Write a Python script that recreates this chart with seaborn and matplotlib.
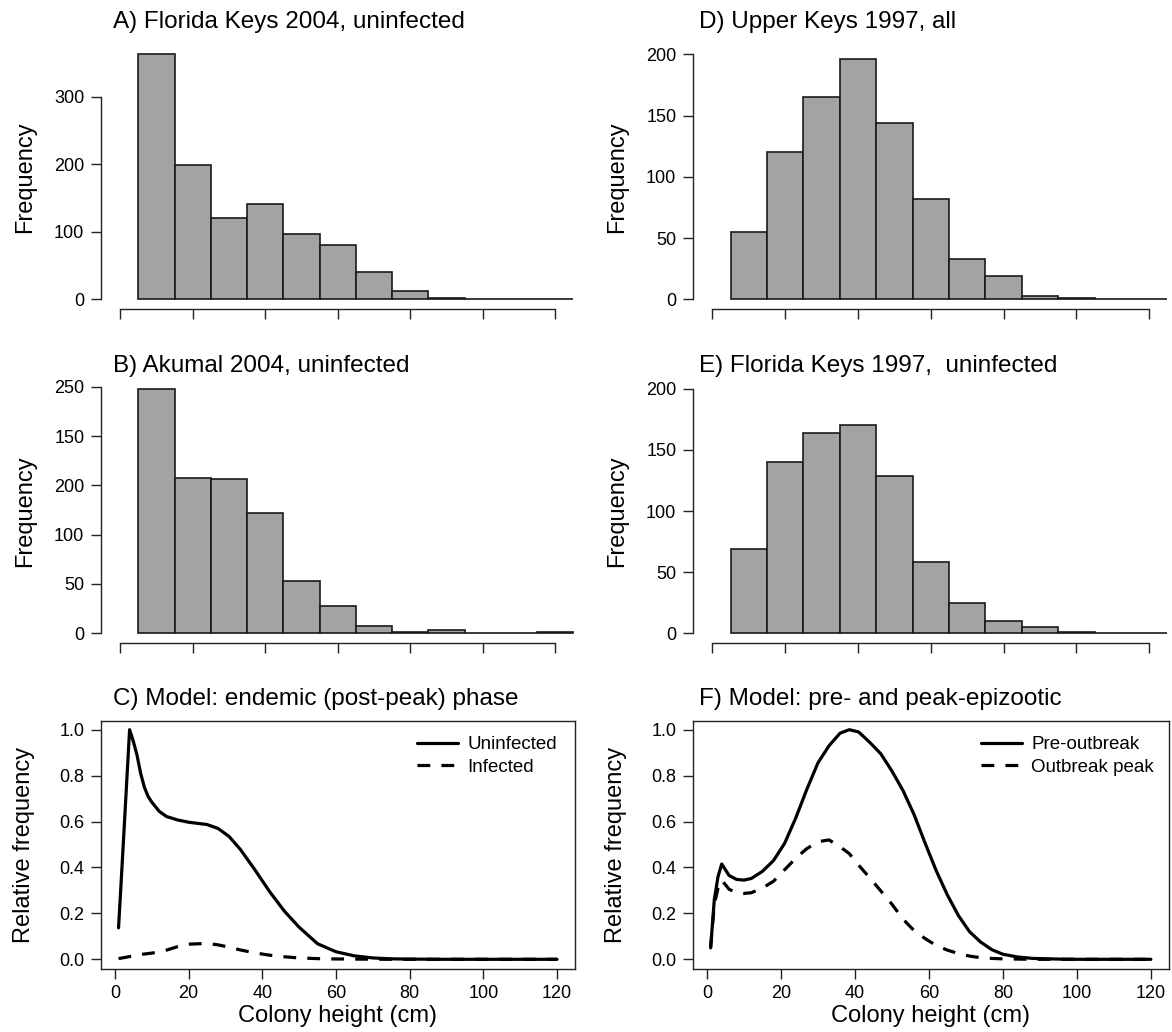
import numpy as np
import pandas as pd
import matplotlib
matplotlib.use("Agg")
import matplotlib.pyplot as plt
from matplotlib.lines import Line2D
import seaborn as sns

sns.set_theme(style="ticks")
plt.rcParams['font.family'] = ['Liberation Sans', 'DejaVu Sans']
plt.rcParams['text.color'] = 'black'
plt.rcParams['axes.labelcolor'] = 'black'
plt.rcParams['xtick.color'] = 'black'
plt.rcParams['ytick.color'] = 'black'

# ---------------- data ----------------
bin_edges = [5, 15, 25, 35, 45, 55, 65, 75, 85, 95, 105, 115, 125]
counts_A = [363, 199, 121, 141, 97, 80, 41, 12, 2, 1, 0, 0]
counts_B = [248, 157, 156, 122, 53, 28, 7, 1, 3, 0, 0, 1]
counts_D = [55, 120, 165, 196, 144, 82, 33, 19, 3, 1, 0, 0]
counts_E = [69, 140, 164, 170, 129, 58, 25, 10, 5, 1, 0, 0]

yticks_A = [0, 100, 200, 300]
ylabels_A = ["0", "100", "200", "300"]
yticks_B = [0, 50, 100, 150, 200, 250]
ylabels_B = ["0", "50", "100", "200", "150", "250"]
yticks_D = [0, 50, 100, 150, 200]
ylabels_D = ["0", "50", "100", "150", "200"]
yticks_E = [0, 50, 100, 150, 200]
ylabels_E = ["0", "50", "100", "150", "200"]

x_ticks = [0, 20, 40, 60, 80, 100, 120]

C_x = [1, 2, 3, 4, 5, 6, 7, 8, 9, 10, 12, 14, 17, 20, 25, 28, 31, 34, 38, 42,
       46, 50, 55, 60, 65, 70, 75, 80, 90, 100, 110, 120]
C_uninfected = [0.137, 0.42, 0.71, 1.0, 0.95, 0.89, 0.81, 0.75, 0.71, 0.685,
                0.645, 0.622, 0.607, 0.597, 0.587, 0.57, 0.535, 0.48, 0.39,
                0.295, 0.21, 0.14, 0.068, 0.033, 0.015, 0.006, 0.002, 0.001,
                0, 0, 0, 0]
C_infected = [0.003, 0.006, 0.009, 0.012, 0.015, 0.018, 0.021, 0.023, 0.025,
              0.027, 0.032, 0.04, 0.055, 0.066, 0.069, 0.063, 0.053, 0.041,
              0.028, 0.018, 0.011, 0.006, 0.003, 0.0015, 0.001, 0.0005, 0,
              0, 0, 0, 0, 0]

F_x = [1, 2, 3, 4, 5, 6, 8, 10, 12, 15, 18, 21, 24, 27, 30, 33, 36, 38.5, 41,
       44, 47, 50, 53, 56, 59, 62, 65, 68, 71, 74, 77, 80, 84, 88, 95, 100,
       110, 120]
F_pre = [0.05, 0.26, 0.36, 0.415, 0.39, 0.365, 0.348, 0.345, 0.352, 0.383,
         0.43, 0.505, 0.615, 0.74, 0.855, 0.93, 0.985, 1.0, 0.99, 0.945,
         0.895, 0.82, 0.735, 0.63, 0.505, 0.385, 0.28, 0.19, 0.12, 0.075,
         0.042, 0.022, 0.01, 0.004, 0.001, 0, 0, 0]
F_peak = [0.05, 0.24, 0.31, 0.345, 0.325, 0.305, 0.29, 0.287, 0.29, 0.31,
          0.34, 0.39, 0.44, 0.482, 0.512, 0.52, 0.49, 0.46, 0.41, 0.355,
          0.298, 0.24, 0.175, 0.125, 0.09, 0.06, 0.04, 0.025, 0.014, 0.007,
          0.004, 0.002, 0.001, 0, 0, 0, 0, 0]

titles = {
    "A": "A) Florida Keys 2004, uninfected",
    "B": "B) Akumal 2004, uninfected",
    "C": "C) Model: endemic (post-peak) phase",
    "D": "D) Upper Keys 1997, all",
    "E": "E) Florida Keys 1997,  uninfected",
    "F": "F) Model: pre- and peak-epizootic",
}
legend_C = ["Uninfected", "Infected"]
legend_F = ["Pre-outbreak", "Outbreak peak"]

# ---------------- layout ----------------
W, H = 1172, 1032
fig = plt.figure(figsize=(W / 100, H / 100), dpi=100)

TICK_FS = 13
TITLE_FS = 17.5
LAB_FS = 17
LEG_FS = 13.5
AX_COLOR = "#222222"
AX_LW = 1.0


def px_axes(x0, y0, x1, y1):
    return fig.add_axes([x0 / W, 1 - y1 / H, (x1 - x0) / W, (y1 - y0) / H])


cols = [(101, 574.5), (693, 1168.5)]
rows = [(44.4, 309.2), (379, 643), (720.5, 968.5)]
title_x = [113, 699]
title_base = [28, 371.7, 705]


def style_ticks(ax):
    ax.tick_params(axis="both", direction="out", length=7, width=AX_LW,
                   color=AX_COLOR, labelsize=TICK_FS, pad=5,
                   labelcolor="black")


def hist_panel(col, row, counts, yt, yl, ylim, key):
    x0, x1 = cols[col]
    y0, y1 = rows[row]
    ax = px_axes(x0, y0, x1, y1)
    centers = [(a + b) / 2 for a, b in zip(bin_edges[:-1], bin_edges[1:])]
    sns.histplot(x=centers, weights=counts, bins=bin_edges, ax=ax,
                 color="#a3a3a3", edgecolor="#1a1a1a", linewidth=1.2,
                 alpha=1)
    ax.set_xlim(-5.3, 125.3)
    ax.set_ylim(*ylim)
    for s in ["top", "right"]:
        ax.spines[s].set_visible(False)
    ax.spines["left"].set_bounds(yt[0], yt[-1])
    ax.spines["bottom"].set_bounds(0, 120)
    for s in ["left", "bottom"]:
        ax.spines[s].set_linewidth(AX_LW)
        ax.spines[s].set_color(AX_COLOR)
    ax.set_xticks(x_ticks)
    ax.set_xticklabels([])
    ax.set_yticks(yt)
    ax.set_yticklabels(yl)
    style_ticks(ax)
    ax.set_xlabel("")
    ax.set_ylabel("")
    ax.grid(False)
    fig.text(title_x[col] / W, 1 - title_base[row] / H, titles[key],
             fontsize=TITLE_FS, ha="left", va="baseline")
    fig.text((x0 - 76) / W, 1 - ((y0 + y1) / 2) / H, "Frequency",
             fontsize=LAB_FS, rotation=90, ha="center", va="center")
    return ax


hist_panel(0, 0, counts_A, yticks_A, ylabels_A, (-14.52, 377.52), "A")
hist_panel(0, 1, counts_B, yticks_B, ylabels_B, (-9.92, 257.92), "B")
hist_panel(1, 0, counts_D, yticks_D, ylabels_D, (-8, 208), "D")
hist_panel(1, 1, counts_E, yticks_E, ylabels_E, (-8, 208), "E")


def curve_panel(col, xs, ys1, ys2, labels, key, leg_right):
    x0, x1 = cols[col]
    y0, y1 = rows[2]
    ax = px_axes(x0, y0, x1, y1)
    sns.lineplot(x=xs, y=ys1, ax=ax, color="black", linewidth=2.3,
                 label=labels[0])
    sns.lineplot(x=xs, y=ys2, ax=ax, color="black", linewidth=2.3,
                 linestyle=(0, (4, 3.5)), label=labels[1])
    ax.set_xlim(-3.76, 124.76)
    ax.set_ylim(-0.04, 1.04)
    ax.set_xticks(x_ticks)
    ax.set_yticks([0, 0.2, 0.4, 0.6, 0.8, 1.0])
    ax.set_yticklabels(["0.0", "0.2", "0.4", "0.6", "0.8", "1.0"])
    for s in ax.spines.values():
        s.set_visible(True)
        s.set_linewidth(AX_LW)
        s.set_color(AX_COLOR)
    style_ticks(ax)
    ax.grid(False)
    ax.set_xlabel("Colony height (cm)", fontsize=LAB_FS, labelpad=2)
    ax.set_ylabel("")
    handles = [Line2D([], [], color="black", lw=2.3),
               Line2D([], [], color="black", lw=2.3, linestyle=(0, (4, 3.5)))]
    ax.legend(handles, labels, loc="upper right", frameon=False,
              fontsize=LEG_FS, handlelength=2.2, handletextpad=0.5,
              labelspacing=0.3, borderpad=0, borderaxespad=0,
              bbox_to_anchor=(leg_right / W, 1 - 736 / H),
              bbox_transform=fig.transFigure)
    fig.text(title_x[col] / W, 1 - title_base[2] / H, titles[key],
             fontsize=TITLE_FS, ha="left", va="baseline")
    fig.text((x0 - 77) / W, 1 - ((y0 + y1) / 2) / H, "Relative frequency",
             fontsize=LAB_FS, rotation=90, ha="center", va="center")
    return ax


curve_panel(0, C_x, C_uninfected, C_infected, legend_C, "C", 557)
curve_panel(1, F_x, F_pre, F_peak, legend_F, "F", 1154)

fig.savefig("out.png", dpi=100)
